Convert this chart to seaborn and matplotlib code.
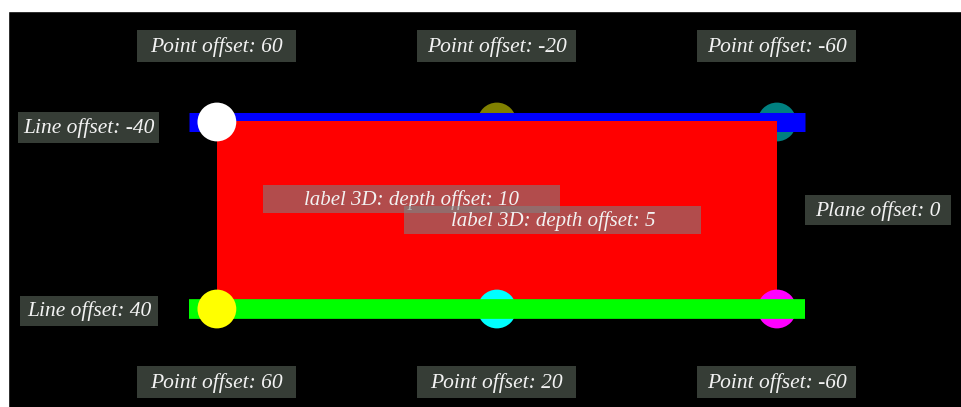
import matplotlib
matplotlib.use("Agg")
import matplotlib.pyplot as plt
import seaborn as sns
from matplotlib.patches import Rectangle

# Datos de la escena (coordenadas del mundo)
point_x = [-1, 0, 1]
top_y = 1
bottom_y = -1
top_colors = ['white', 'olive', 'teal']
bottom_colors = ['yellow', 'cyan', 'magenta']
top_offsets = [60, -20, -60]
bottom_offsets = [60, 20, -60]
line_x = [-1.1, 1.1]
line_offsets = [-40, 40]
plane_x = [-1, 1]
plane_y = [-1, 1]
plane_offset = 0
depth_offsets = [10, 5]

# escala de pixeles -> unidades del mundo
PX_X = 1 / 280
PX_Y = 1 / 93.5

sns.set_theme(style="white")
plt.rcParams['font.family'] = ['Liberation Serif', 'DejaVu Serif']

fig = plt.figure(figsize=(9.62, 4.07), dpi=100, facecolor='black')
# margenes blancos arriba y a la izquierda
fig.patches.append(Rectangle((0, 396 / 407), 1, 1, transform=fig.transFigure,
                             color='white', zorder=-10))
fig.patches.append(Rectangle((0, 0), 8 / 962, 1, transform=fig.transFigure,
                             color='white', zorder=-10))
ax = fig.add_axes([8 / 962, 0, 954 / 962, 396 / 407])
ax.set_facecolor('black')
ax.set_xlim(-1.746, 1.661)
ax.set_ylim(-2.048, 2.187)
ax.axis('off')

# puntos detras de la linea azul y el plano
sns.scatterplot(x=point_x[1:], y=[top_y] * 2, hue=top_colors[1:], palette=top_colors[1:],
                s=780, linewidth=0, zorder=1, legend=False, ax=ax)
# linea superior
sns.lineplot(x=line_x, y=[top_y, top_y], color='blue', linewidth=13.7,
             solid_capstyle='butt', zorder=2, ax=ax)
# plano rojo
ax.fill_between(plane_x, plane_y[0], plane_y[1] + 0.015, color='red', linewidth=0, zorder=3)
# puntos inferiores detras de la linea verde
sns.scatterplot(x=point_x[1:], y=[bottom_y] * 2, hue=bottom_colors[1:], palette=bottom_colors[1:],
                s=780, linewidth=0, zorder=4, legend=False, ax=ax)
sns.lineplot(x=line_x, y=[bottom_y, bottom_y], color='#00ff00', linewidth=14.2,
             solid_capstyle='butt', zorder=5, ax=ax)
# puntos al frente
sns.scatterplot(x=[point_x[0]] * 2, y=[top_y, bottom_y], hue=['a', 'b'],
                palette=[top_colors[0], bottom_colors[0]],
                s=780, linewidth=0, zorder=6, legend=False, ax=ax)


def label(cx, cy, text, w, h, fc='#363d36', alpha=1.0, z=7, size=15.5):
    ax.add_patch(Rectangle((cx - w / 2 * PX_X, cy - h / 2 * PX_Y), w * PX_X, h * PX_Y,
                           facecolor=fc, alpha=alpha, linewidth=0, zorder=z))
    ax.text(cx, cy - 0.01, text, ha='center', va='center', color='#f2f2f2', style='italic',
            fontsize=size, zorder=z + 1)


for x, o in zip(point_x, top_offsets):
    label(x, 1.81, f'Point offset: {o}', 159, 32)
for x, o in zip(point_x, bottom_offsets):
    label(x, -1.78, f'Point offset: {o}', 159, 32)
label(-1.457, 0.94, f'Line offset: {line_offsets[0]}', 141, 31)
label(-1.457, -1.016, f'Line offset: {line_offsets[1]}', 138, 30)
label(1.36, 0.06, f'Plane offset: {plane_offset}', 146, 30)
label(-0.304, 0.176, f'label 3D: depth offset: {depth_offsets[0]}', 297, 28,
      fc='gray', alpha=0.6, z=9, size=15)
label(0.2, -0.048, f'label 3D: depth offset: {depth_offsets[1]}', 297, 28,
      fc='gray', alpha=0.6, z=11, size=15)

fig.savefig('out.png', dpi=100, facecolor=fig.get_facecolor())
